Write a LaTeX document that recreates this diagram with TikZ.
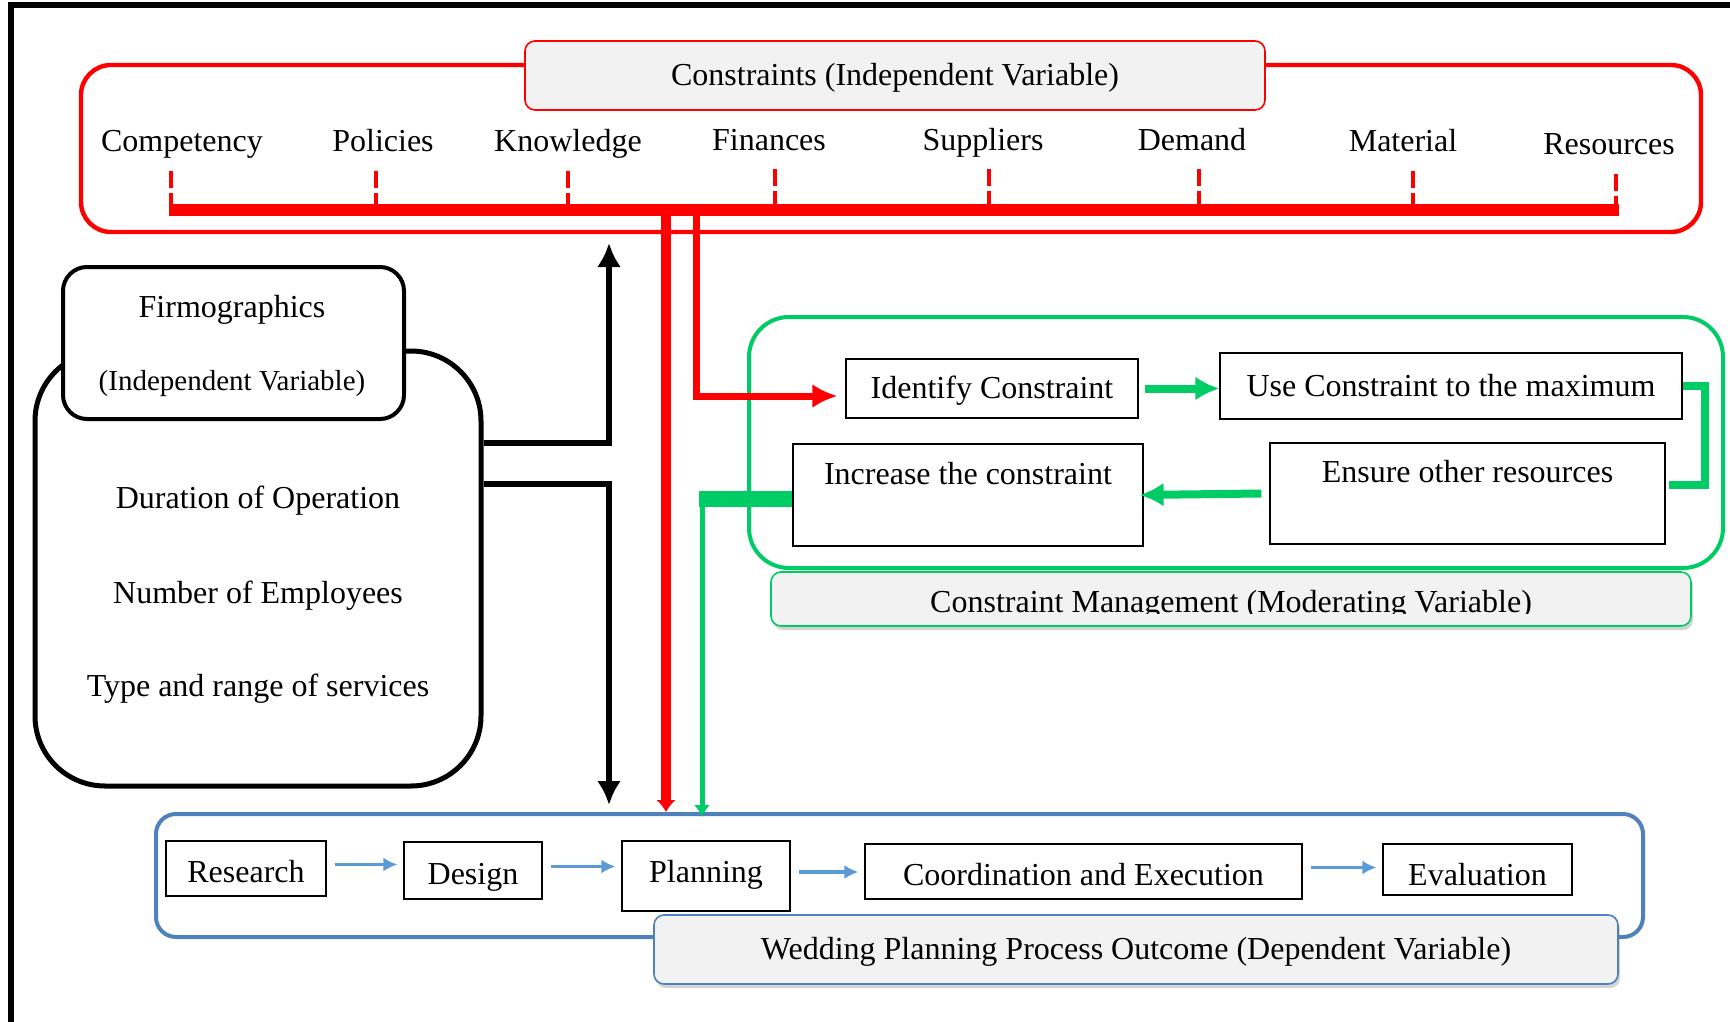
\documentclass[tikz,border=0pt]{standalone}
\usepackage{fontspec}
\setmainfont{Liberation Serif}
\usetikzlibrary{arrows.meta,shadows}

\definecolor{lgray}{RGB}{242,242,242}
\definecolor{cmgreen}{RGB}{0,204,102}
\definecolor{wpblue}{RGB}{79,129,189}
\definecolor{arblue}{RGB}{91,155,213}

\tikzset{
  item/.style={inner sep=0pt, font=\fontsize{16}{19}\selectfont, text height=12.5pt, text depth=2.5pt},
  stepbox/.style={item, draw, line width=.6pt, fill=white},
  procbox/.style={stepbox, text height=14pt, text depth=0pt},
  tagbox/.style={item, fill=lgray, line width=.8pt, rounded corners=5pt},
  tick/.style={red, line width=1.6pt, dash pattern=on 8.5pt off 2.5pt},
  redline/.style={red, line cap=butt},
  blkline/.style={line width=3pt, -{Latex[length=12pt,width=12pt]}},
  gline/.style={cmgreen, line width=4pt},
  garrow/.style={gline, -{Latex[length=12pt,width=12pt]}},
  barrow/.style={arblue, line width=1.6pt, -{Latex[length=7pt,width=7pt]}},
}

\begin{document}
\begin{tikzpicture}[x=0.5pt, y=-0.5pt]
\useasboundingbox (0,0) rectangle (1730,1022);
\draw[line width=2.6pt] (11,1022)--(11,5)--(1730,5);

% constraints
\draw[redline, line width=2.2pt, rounded corners=15pt] (81,65) rectangle (1701,232);
\node[tagbox, draw=red, minimum width=370pt, minimum height=34.5pt] (cons) at (895,75.5) {Constraints (Independent Variable)};
\draw[redline, line width=6pt] (169,210) -- (1619,210);
\foreach \n/\x/\y/\t/\txt in {1/182/142/171/Competency, 2/383/142/376/Policies,
  3/568/142/568/Knowledge, 4/769/140/775/Finances, 5/983/140/989/Suppliers,
  6/1192/140/1199/Demand, 7/1403/142/1413/Material, 8/1609/145/1616/Resources}
{
\node[item] (c\n) at (\x,\y) {\txt};
\coordinate (k\n) at (\t,210);
\draw[tick, shorten <=7pt] (c\n.south -| k\n) -- (k\n);
}

% firmographics
\node[draw, line width=2.5pt, rounded corners=35pt, minimum width=223pt, minimum height=217.5pt] (firm) at (258,568.5) {};
\node[draw, fill=white, line width=2pt, rounded corners=12pt, minimum width=170.5pt, minimum height=76pt] (firmtag) at (233.5,343) {};
\node[item] (firmt) at (232,307) {Firmographics};
\node[item, font=\fontsize{14.5}{17}\selectfont] (firmv) at (232,380) {(Independent Variable)};
\node[item] (dur) at (258,498) {Duration of Operation};
\node[item] (emp) at (258,593) {Number of Employees};
\node[item] (serv) at (258,686) {Type and range of services};

% constraint management
\draw[cmgreen, line width=2pt, rounded corners=20pt] (749,317) rectangle (1723,568);
\node[tagbox, draw=cmgreen, drop shadow={shadow xshift=1pt, shadow yshift=-2pt, opacity=.35}, minimum width=460pt, minimum height=27pt] (cmtag) at (1231,599) {};
\begin{scope}
\clip (771,572) rectangle (1691,613);
\node[item, anchor=base] (cmtext) at (1231,612) {Constraint Management (Moderating Variable)};
\end{scope}
\node[stepbox, minimum width=146pt, minimum height=29.5pt] (ident) at (992,388.5) {Identify Constraint};
\node[stepbox, minimum width=231pt, minimum height=33pt] (usec) at (1451,386) {Use Constraint to the maximum};
\node[stepbox, minimum width=175pt, minimum height=51pt,
  label={[item, anchor=center, yshift=-15.5pt]north:Increase the constraint}] (incr) at (968,495) {};
\node[stepbox, minimum width=197.5pt, minimum height=50.5pt,
  label={[item, anchor=center, yshift=-15pt]north:Ensure other resources}] (ensr) at (1467.5,493.5) {};

% wedding planning process
\node[draw=wpblue, line width=2pt, rounded corners=10pt, minimum width=743.5pt, minimum height=61.5pt] (proc) at (899.5,875.5) {};
\node[tagbox, draw=wpblue, drop shadow={shadow xshift=1pt, shadow yshift=-2pt, opacity=.35}, minimum width=482pt, minimum height=34.5pt] (wptag) at (1136,949.5) {Wedding Planning Process Outcome (Dependent Variable)};
\node[procbox, minimum width=80pt, minimum height=27.5pt] (res) at (246,868.5) {Research};
\node[procbox, minimum width=69pt, minimum height=28.5pt] (des) at (473,870.5) {Design};
\node[procbox, text height=10pt, text depth=4pt, minimum width=84pt, minimum height=35pt] (plan) at (706,876) {Planning};
\node[procbox, minimum width=218.5pt, minimum height=27.5pt] (coord) at (1083.5,871.5) {Coordination and Execution};
\node[procbox, text height=16pt, minimum width=94.5pt, minimum height=25.5pt] (eval) at (1477.5,869.5) {Evaluation};
\foreach \a/\b in {res/des, des/plan, plan/coord, coord/eval}
\draw[barrow, shorten <=4pt, shorten >=3pt] ([yshift=2pt]\a.east) -- ([yshift=2pt]\a.east -| \b.west);

% connectors
\coordinate (up) at (609,243);
\coordinate (dn) at (609,805);
\draw[blkline] ([yshift=62.75pt]firm.east) -| (up);
\draw[blkline] ([yshift=42.25pt]firm.east) -| (dn);
\coordinate (r1) at (666,210);
\coordinate (r2) at (696,210);
\draw[redline, line width=5pt, -{Latex[length=6pt,width=10pt]}] (r1) -- (r1 |- proc.north);
\draw[redline, line width=3.5pt, -{Latex[length=12.5pt,width=12pt]}] (r2) |- ([xshift=-4pt, yshift=-3.75pt]ident.west);
\draw[garrow] ([xshift=3pt]ident.east) -- (ident.east -| usec.west);
\draw[gline] (usec.east) -- ++(11pt,0) |- ([xshift=1.5pt, yshift=4.25pt]ensr.east);
\draw[garrow] ([xshift=-4pt]ensr.west) -- ([xshift=-2pt]incr.east);
\coordinate (gk) at (702,499);
\draw[gline, line width=8pt] (699,499) -- ([yshift=-2pt]incr.west);
\draw[gline, line width=2.5pt, -{Latex[length=6pt,width=8pt]}] (gk) -- ([yshift=-2.5pt]gk |- proc.north);
\end{tikzpicture}
\end{document}
